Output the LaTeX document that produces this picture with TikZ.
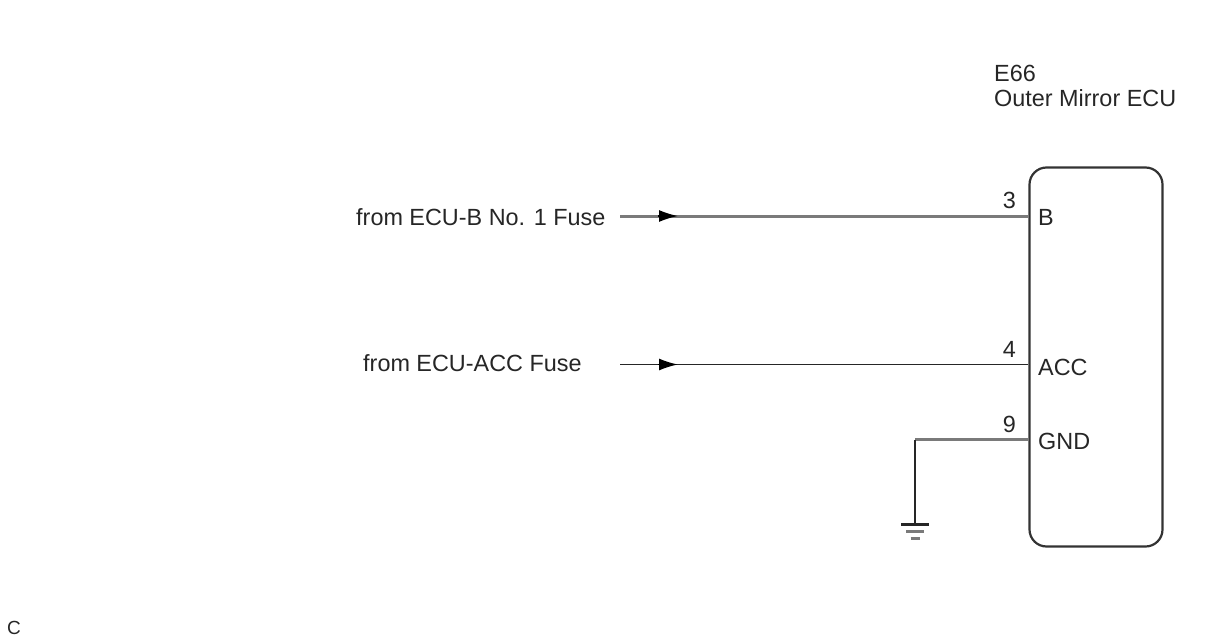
\documentclass[tikz,border=0pt]{standalone}
\usepackage{fontspec}
\setmainfont{Liberation Sans}
\usetikzlibrary{arrows.meta}
\tikzset{
	lbl/.style={inner sep=0pt,font=\fontsize{23.4}{26}\selectfont,text=black!85},
	wire/.style={line width=1.7pt,black!85},
	greywire/.style={line width=3pt,black!52},
	tip/.style={-{Latex[length=19pt,width=12pt]},line width=1.7pt,black},
}
\begin{document}
\begin{tikzpicture}[x=1pt,y=-1pt]
	\useasboundingbox(0,0)rectangle(1206,642);
	\node[draw=black!80,line width=2.2pt,rounded corners=17pt,minimum width=133pt,minimum height=379pt,inner sep=0pt](ecu)at(1096,357){};
	\node[lbl,anchor=west](name)at(994,73){E66};
	\node[lbl,anchor=west](title)at(994,98.5){Outer Mirror ECU};
	\node[lbl,anchor=west](fromb)at(356,217){from ECU-B No. 1 Fuse};
	\node[lbl,anchor=west](fromacc)at(363,363){from ECU-ACC Fuse};
	\node[lbl,anchor=west](pinb)at(1038,217){B};
	\node[lbl,anchor=west](pinacc)at(1038,367){ACC};
	\node[lbl,anchor=west](pingnd)at(1038,441){GND};
	\node[lbl,anchor=east](nb)at(1016,200){3};
	\node[lbl,anchor=east](nacc)at(1016,349){4};
	\node[lbl,anchor=east](ngnd)at(1016,424.5){9};
	\node[lbl,anchor=west,font=\fontsize{19}{22}\selectfont](corner)at(7,628){C};
	\coordinate(startb)at(620,216);
	\coordinate(startacc)at(620,364.5);
	\coordinate(endb)at(ecu.west|-startb);
	\coordinate(endacc)at(ecu.west|-startacc);
	\coordinate(endgnd)at(ecu.west|-0,439.5);
	\coordinate(gnd)at(915,524);
	\draw[greywire](startb)--(endb);
	\draw[wire](startacc)--(endacc);
	\draw[tip](startb)++(38,0)--++(20,0);
	\draw[tip](startacc)++(38,0)--++(20,0);
	\draw[greywire](endgnd)--(endgnd-|gnd);
	\draw[wire](endgnd-|gnd)--(gnd);
	\draw[wire,line width=3pt](gnd)++(-14,0)--++(28,0);
	\draw[greywire](gnd)++(-9,7.5)--++(18,0);
	\draw[greywire,line width=2.4pt](gnd)++(-4.5,14.5)--++(9,0);
\end{tikzpicture}
\end{document}
